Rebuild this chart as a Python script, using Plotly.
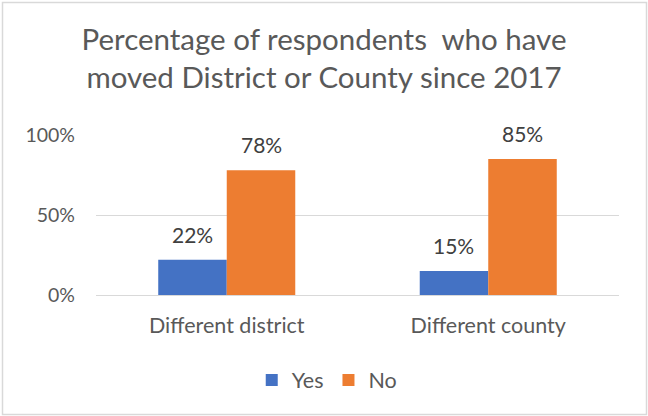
import plotly.graph_objects as go

categories = ["Different district", "Different county"]
yes_values = [22, 15]
no_values = [78, 85]
tick_values = [0, 50, 100]
tick_labels = ["0%", "50%", "100%"]

FONT = "Lato"
TEXT = "#595959"
BLUE = "#4472C4"
ORANGE = "#ED7D31"
GRID = "#D9D9D9"

W, H = 648, 416
L, R, T, B = 96, 29, 135, 121
plot_w = W - L - R
plot_h = H - T - B

fig = go.Figure()
fig.add_trace(go.Bar(name="Yes", x=categories, y=yes_values, marker_color=BLUE,
                     marker_line_width=0))
fig.add_trace(go.Bar(name="No", x=categories, y=no_values, marker_color=ORANGE,
                     marker_line_width=0))

# value labels above each bar
for i, cat in enumerate(categories):
    for j, v in enumerate([yes_values[i], no_values[i]]):
        fig.add_annotation(x=cat, y=v, text=f"{v}%", showarrow=False,
                           xref="x", yref="y", yanchor="bottom",
                           xshift=(-1 if j == 0 else 1) * 34.3, yshift=11,
                           font=dict(family=FONT, size=21, color="#404040"))

# light frame around the whole chart
def px_to_paper_x(px):
    return (px - L) / plot_w

def px_to_paper_y(py):
    return (H - B - py) / plot_h

fig.add_shape(type="rect", xref="paper", yref="paper",
              x0=px_to_paper_x(2.5), x1=px_to_paper_x(646.5),
              y0=px_to_paper_y(414.5), y1=px_to_paper_y(2.5),
              line=dict(color=GRID, width=1.5), fillcolor="rgba(0,0,0,0)")

fig.update_layout(
    width=W, height=H,
    margin=dict(l=L, r=R, t=T, b=B, pad=0),
    paper_bgcolor="white", plot_bgcolor="white",
    barmode="group", bargap=0.476, bargroupgap=0,
    font=dict(family=FONT, size=19, color=TEXT),
    title=dict(text="Percentage of respondents  who have<br>moved District or County since 2017",
               x=0.5, xref="container", xanchor="center",
               y=1 - 50 / H, yref="container", yanchor="top",
               font=dict(family=FONT, size=29.5, color=TEXT)),
    legend=dict(orientation="h", x=0.505, xanchor="center", xref="container",
                y=1 - 380 / H, yanchor="middle", yref="container",
                font=dict(family=FONT, size=21.5, color=TEXT),
                itemwidth=30, traceorder="normal"),
    xaxis=dict(showgrid=False, showline=False, ticks="", ticklabelstandoff=15,
               tickfont=dict(family=FONT, size=21.5, color=TEXT)),
    yaxis=dict(range=[0, 100], tickvals=tick_values, ticktext=tick_labels,
               showgrid=True, gridcolor=GRID, gridwidth=1.3,
               zeroline=True, zerolinecolor=GRID, zerolinewidth=1.3,
               showline=False, ticks="", ticklabelstandoff=20,
               tickfont=dict(family=FONT, size=19.5, color=TEXT)),
)

fig.write_html("out.html")
